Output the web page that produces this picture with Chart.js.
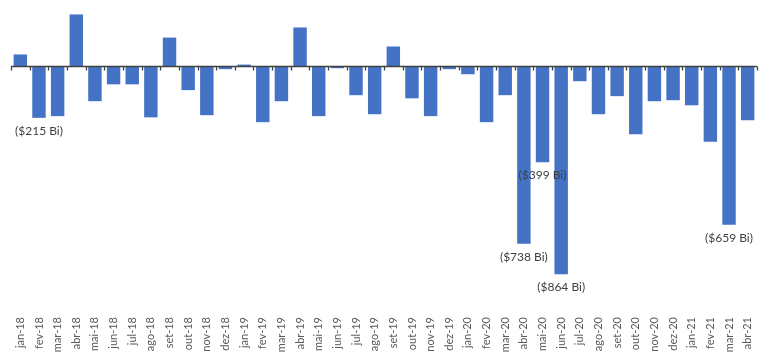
<!DOCTYPE html>
<html>
<head>
<meta charset="utf-8">
<script src="https://cdn.jsdelivr.net/npm/chart.js@4/dist/chart.umd.min.js"></script>
<style>
    html, body { margin: 0; padding: 0; background: #fff; }
    #wrap { width: 775px; height: 359px; }
</style>
</head>
<body>
<div id="wrap"><canvas id="resultChart"></canvas></div>
<script>
const months = [
    'jan-18', 'fev-18', 'mar-18', 'abr-18', 'mai-18', 'jun-18', 'jul-18', 'ago-18', 'set-18', 'out-18', 'nov-18', 'dez-18',
    'jan-19', 'fev-19', 'mar-19', 'abr-19', 'mai-19', 'jun-19', 'jul-19', 'ago-19', 'set-19', 'out-19', 'nov-19', 'dez-19',
    'jan-20', 'fev-20', 'mar-20', 'abr-20', 'mai-20', 'jun-20', 'jul-20', 'ago-20', 'set-20', 'out-20', 'nov-20', 'dez-20',
    'jan-21', 'fev-21', 'mar-21', 'abr-21'
];

// R$ bilhoes
const values = [
    48, -215, -208, 214, -146, -76, -76, -213, 118, -100, -204, -13,
    6, -233, -146, 160, -208, -9, -121, -200, 81, -134, -208, -13,
    -34, -233, -121, -738, -399, -864, -63, -200, -125, -283, -146, -142,
    -163, -314, -659, -225
];

// only some bars carry a value label
const labelled = ['fev-18', 'abr-20', 'mai-20', 'jun-20', 'mar-21'];

const barColor = '#4472C4';
const textColor = '#595959';
const fontFamily = 'Lato, "Open Sans", sans-serif';

function formatBi(v) {
    return v < 0 ? '($' + Math.abs(v) + ' Bi)' : '$' + v + ' Bi';
}

// zero line with tick marks between categories (like the Excel axis)
const zeroAxis = {
    id: 'zeroAxis',
    afterDatasetsDraw(chart) {
        const ctx = chart.ctx;
        const x = chart.scales.x, y = chart.scales.y;
        const y0 = Math.round(y.getPixelForValue(0)) + 0.5;
        const step = (x.right - x.left) / months.length;
        ctx.save();
        ctx.strokeStyle = '#404040';
        ctx.lineWidth = 1.3;
        ctx.beginPath();
        ctx.moveTo(x.left, y0);
        ctx.lineTo(x.right, y0);
        for (let i = 0; i <= months.length; i++) {
            const px = Math.round(x.left + i * step) + 0.5;
            ctx.moveTo(px, y0);
            ctx.lineTo(px, y0 + 4);
        }
        ctx.stroke();
        ctx.restore();
    }
};

const valueLabels = {
    id: 'valueLabels',
    afterDraw(chart) {
        const ctx = chart.ctx;
        const meta = chart.getDatasetMeta(0);
        ctx.save();
        ctx.font = '12px ' + fontFamily;
        ctx.fillStyle = '#404040';
        ctx.textAlign = 'center';
        ctx.textBaseline = 'middle';
        months.forEach((m, i) => {
            if (!labelled.includes(m)) return;
            const bar = meta.data[i];
            const v = values[i];
            const ty = v < 0 ? bar.y + 13 : bar.y - 13;
            ctx.fillText(formatBi(v), bar.x, ty);
        });
        ctx.restore();
    }
};

new Chart(document.getElementById('resultChart').getContext('2d'), {
    type: 'bar',
    data: {
        labels: months,
        datasets: [{
            data: values,
            backgroundColor: barColor,
            borderWidth: 0,
            categoryPercentage: 1,
            barPercentage: 0.72
        }]
    },
    plugins: [zeroAxis, valueLabels],
    options: {
        responsive: true,
        maintainAspectRatio: false,
        animation: false,
        layout: { padding: { left: 11, right: 18, top: 0, bottom: 0 } },
        plugins: {
            legend: { display: false },
            tooltip: { enabled: false }
        },
        scales: {
            x: {
                grid: { display: false },
                border: { display: false },
                ticks: {
                    color: textColor,
                    font: { size: 11, family: fontFamily },
                    minRotation: 90,
                    maxRotation: 90,
                    autoSkip: false,
                    padding: 2
                },
                afterFit: scale => { scale.height = 52; }
            },
            y: {
                display: false,
                min: -1000,
                max: 274
            }
        }
    }
});
</script>
</body>
</html>
